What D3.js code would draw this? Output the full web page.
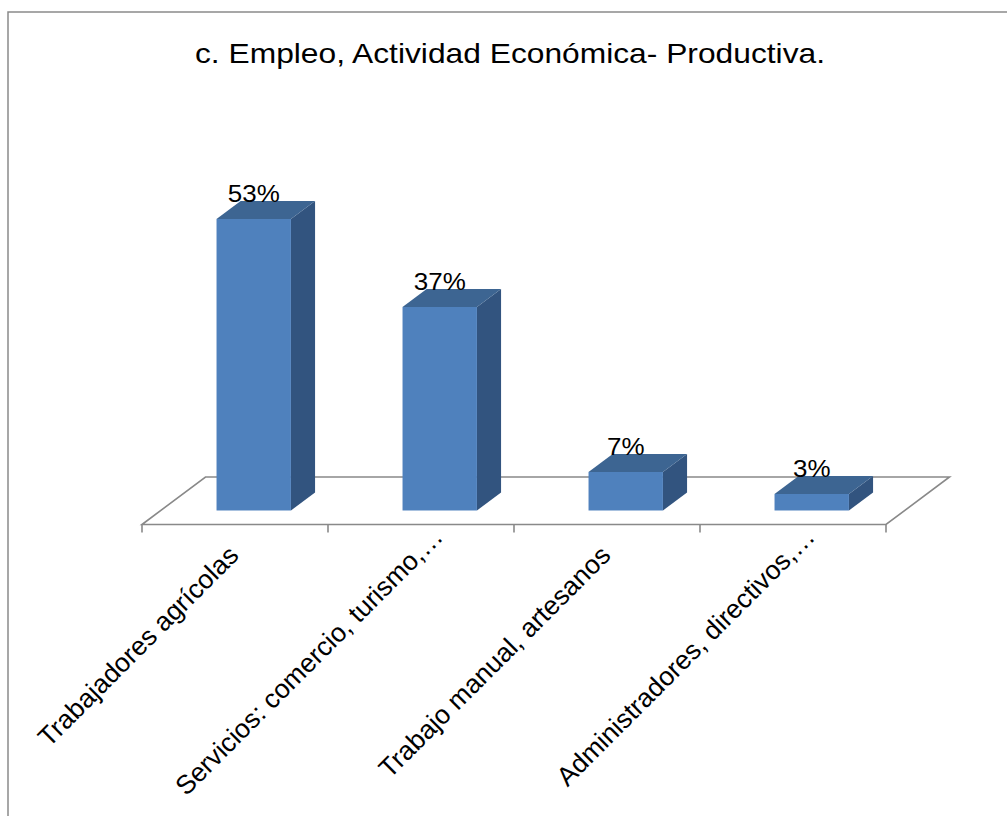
<!DOCTYPE html>
<html>
<head>
<meta charset="utf-8">
<script src="https://cdn.jsdelivr.net/npm/d3@7"></script>
<style>
  html, body { margin: 0; padding: 0; background: #fff; }
  svg { display: block; }
  text { font-family: "Liberation Sans", Arial, sans-serif; fill: #000; }
</style>
</head>
<body>
<svg id="chart" width="1007" height="816"></svg>
<script>
const title = "c. Empleo, Actividad Económica- Productiva.";
const categories = [
  "Trabajadores agrícolas",
  "Servicios: comercio, turismo,…",
  "Trabajo manual, artesanos",
  "Administradores, directivos,…"
];
const values = [0.53, 0.37, 0.07, 0.03];
const valueLabels = ["53%", "37%", "7%", "3%"];

const svg = d3.select("#chart");
const W = 1007, H = 816;

// chart border (top/left visible)
svg.append("path")
  .attr("d", `M8,${H} L8,12 L${W},12`)
  .attr("fill", "none").attr("stroke", "#8a8a8a").attr("stroke-width", 1.5);

// title
svg.append("text")
  .attr("x", 510).attr("y", 63)
  .attr("text-anchor", "middle")
  .attr("font-size", 28)
  .attr("textLength", 630)
  .attr("lengthAdjust", "spacingAndGlyphs")
  .text(title);

// 3D geometry
const floorFrontY = 524.5;
const depthDx = 63.5, depthDy = -47.5;   // full floor depth
const barDepthStart = 0.295, barDepthFrac = 0.38;

const x = d3.scaleBand()
  .domain(categories)
  .range([142, 886])
  .paddingInner(0.6)
  .paddingOuter(0.3);
const step = x.step();
const catStart = i => 142 + i * step;

const baseY = floorFrontY + depthDy * barDepthStart; // bar front-bottom
const y = d3.scaleLinear().domain([0, 0.6]).range([baseY, baseY - 330]);

// floor
const fl = 142, fr = 886;
const floorG = svg.append("g").attr("fill", "none").attr("stroke", "#898989").attr("stroke-width", 1.6);
floorG.append("path").attr("d",
  `M${fl},${floorFrontY} L${fl + depthDx},${floorFrontY + depthDy} L${fr + depthDx},${floorFrontY + depthDy} L${fr},${floorFrontY} Z`);
// ticks
floorG.selectAll("line.tick")
  .data(d3.range(categories.length + 1))
  .join("line")
  .attr("x1", i => catStart(i)).attr("x2", i => catStart(i))
  .attr("y1", floorFrontY).attr("y2", floorFrontY + 8);

// bars
const sx = depthDx * barDepthStart, bdx = depthDx * barDepthFrac, bdy = depthDy * barDepthFrac;
const bars = svg.selectAll("g.bar")
  .data(categories.map((c, i) => ({ c, v: values[i], l: valueLabels[i] })))
  .join("g").attr("class", "bar");

bars.each(function (d) {
  const g = d3.select(this);
  const x0 = x(d.c) + sx, x1 = x0 + x.bandwidth();
  const yt = y(d.v), yb = y(0);
  // side
  g.append("path")
    .attr("d", `M${x1},${yt} L${x1 + bdx},${yt + bdy} L${x1 + bdx},${yb + bdy} L${x1},${yb} Z`)
    .attr("fill", "#32547f");
  // top
  g.append("path")
    .attr("d", `M${x0},${yt} L${x0 + bdx},${yt + bdy} L${x1 + bdx},${yt + bdy} L${x1},${yt} Z`)
    .attr("fill", "#3d6592");
  // front
  g.append("rect")
    .attr("x", x0).attr("y", yt)
    .attr("width", x1 - x0).attr("height", yb - yt)
    .attr("fill", "#4f81bd");
  // value label
  g.append("text")
    .attr("transform", `translate(${(x0 + x1) / 2},${yt + bdy + 1}) scale(1.13,1)`)
    .attr("text-anchor", "middle")
    .attr("font-size", 23)
    .text(d.l);
});

// category labels
svg.selectAll("text.cat")
  .data(categories)
  .join("text")
  .attr("class", "cat")
  .attr("transform", (d, i) => `translate(${x(d) + x.bandwidth() / 2 + 5},557) rotate(-45)`)
  .attr("text-anchor", "end")
  .attr("dx", d => d.endsWith("…") ? 26 : 0)
  .attr("font-size", 26.5)
  .text(d => d);
</script>
</body>
</html>
